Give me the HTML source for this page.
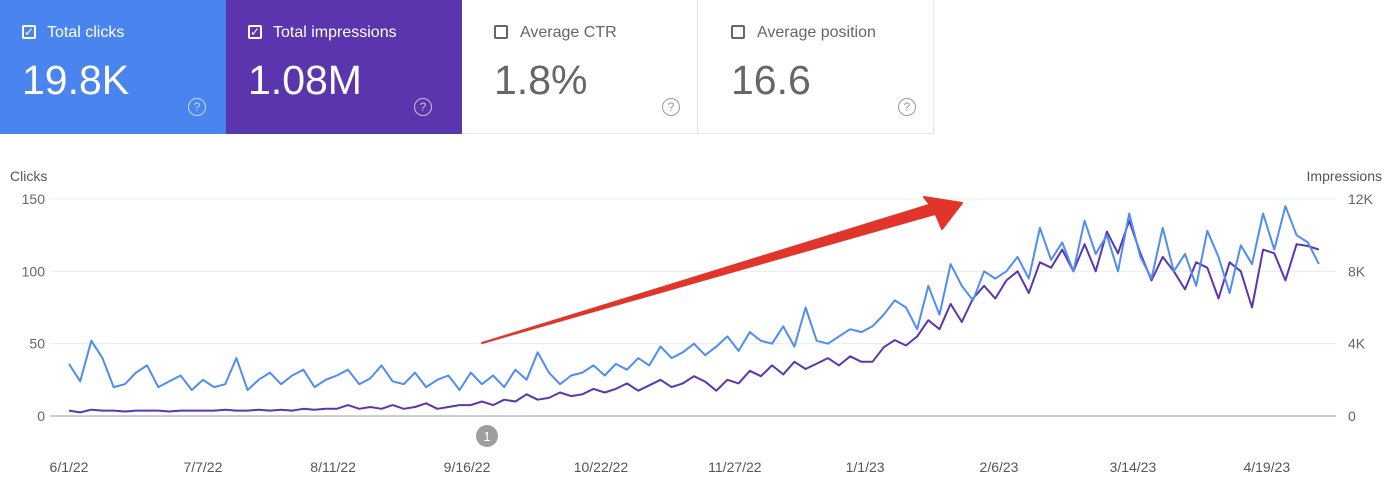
<!DOCTYPE html>
<html><head><meta charset="utf-8">
<style>
body{margin:0;width:1397px;height:500px;background:#fff;font-family:"Liberation Sans",sans-serif;overflow:hidden;position:relative}
.card{position:absolute;top:0;height:134px;box-sizing:border-box}
.lbl{position:absolute;left:47px;top:24px;font-size:16px}
.val{position:absolute;left:22px;top:57px;font-size:41px}
.cb{position:absolute;left:22px;top:25px;width:14px;height:14px;border:2px solid;border-radius:2px;box-sizing:border-box;font-size:12px;line-height:10px;text-align:center}
.q{position:absolute;left:188px;top:98px;width:18px;height:18px;border:1.5px solid;border-radius:50%;font-size:12px;line-height:16px;text-align:center;box-sizing:border-box}
svg{position:absolute;left:0;top:0}
</style></head><body>
<div class="card" style="left:0;width:226px;background:#4a85ef;color:#fff">
<div class="cb" style="border-color:#fff">✓</div><div class="lbl">Total clicks</div><div class="val">19.8K</div><div class="q" style="border-color:#c8d8f8;color:#c8d8f8">?</div></div>
<div class="card" style="left:226px;width:236px;background:#5a35ad;color:#fff">
<div class="cb" style="border-color:#fff">✓</div><div class="lbl">Total impressions</div><div class="val">1.08M</div><div class="q" style="border-color:#c9bde6;color:#c9bde6">?</div></div>
<div class="card" style="left:462px;width:236px;border-right:1px solid #e4e4e4;border-bottom:1px solid #e4e4e4;color:#666">
<div class="cb" style="border-color:#666;left:32px"></div><div class="lbl" style="left:58px">Average CTR</div><div class="val" style="left:32px">1.8%</div><div class="q" style="border-color:#999;color:#999;left:200px">?</div></div>
<div class="card" style="left:698px;width:236px;border-right:1px solid #e4e4e4;border-bottom:1px solid #e4e4e4;color:#666">
<div class="cb" style="border-color:#666;left:33px"></div><div class="lbl" style="left:59px">Average position</div><div class="val" style="left:33px">16.6</div><div class="q" style="border-color:#999;color:#999;left:200px">?</div></div>
<svg id="chart" width="1397" height="500"></svg>
<script>
const clicks=[36,24,52,40,20,22,30,35,20,24,28,18,
25,20,22,40,18,25,30,22,28,32,20,25,
28,32,22,26,35,24,22,30,20,25,28,18,
30,22,28,20,32,25,44,30,22,28,30,35,
28,36,32,40,35,48,40,44,50,42,48,55,
45,58,52,50,62,48,75,52,50,55,60,58,
62,70,80,75,60,90,70,105,90,80,100,95,
100,110,95,130,108,120,100,135,112,125,100,140,
110,95,130,100,112,90,128,110,85,118,105,140,
115,145,125,120,105];
const impressions=[0.3,0.2,0.35,0.3,0.3,0.25,0.3,0.3,0.3,0.25,0.3,0.3,
0.3,0.3,0.35,0.3,0.3,0.35,0.3,0.35,0.3,0.4,0.35,0.4,
0.4,0.6,0.4,0.5,0.4,0.6,0.4,0.5,0.7,0.4,0.5,0.6,
0.6,0.8,0.6,0.9,0.8,1.2,0.9,1.0,1.3,1.1,1.2,1.5,
1.3,1.5,1.8,1.4,1.7,2.0,1.6,1.8,2.2,1.9,1.4,2.0,
1.8,2.5,2.2,2.8,2.3,3.0,2.6,2.9,3.2,2.8,3.3,3.0,
3.0,3.8,4.2,3.9,4.4,5.3,4.8,6.2,5.2,6.5,7.2,6.5,
7.5,8.0,6.8,8.5,8.2,9.2,8.0,9.5,8.0,10.2,9.0,10.8,
9.0,7.5,8.8,8.0,7.0,8.5,8.2,6.5,8.5,8.0,6.0,9.2,
9.0,7.5,9.5,9.4,9.2];
const leftTicks=[0,50,100,150];
const rightTicks=["0","4K","8K","12K"];
const rightVals=[0,4,8,12];
const dateLabels=["6/1/22","7/7/22","8/11/22","9/16/22","10/22/22","11/27/22","1/1/23","2/6/23","3/14/23","4/19/23"];
const dateDays=[0,36,71,107,143,179,214,250,286,322];
const stepDays=3;
const NS="http://www.w3.org/2000/svg",svg=document.getElementById('chart');
const x=d=>69+d*3.72, yL=v=>416-v*217/150, yR=v=>416-v*217/12;
function mk(t,a,txt){const e=document.createElementNS(NS,t);for(const k in a)e.setAttribute(k,a[k]);if(txt!==undefined)e.textContent=txt;svg.appendChild(e);return e;}
leftTicks.forEach((v,i)=>{
 const g=mk('line',{x1:50,x2:1336,y1:yL(v),y2:yL(v),stroke:v?'#ececec':'#bdbdbd','stroke-width':v?1:1.5});
 
 
 const t=mk('text',{x:45,y:yL(v)+5,'text-anchor':'end','font-size':14,fill:'#666'},v);
 
 
});
rightVals.forEach((v,i)=>{
 const t=mk('text',{x:1348,y:yR(v)+5,'font-size':14,fill:'#666'},rightTicks[i]);
 
 
});
let t=mk('text',{x:10,y:181,'font-size':14,fill:'#555'},'Clicks');


t=mk('text',{x:1382,y:181,'font-size':14,fill:'#555','text-anchor':'end'},'Impressions');


dateLabels.forEach((l,i)=>{
 const e=mk('text',{x:x(dateDays[i]),y:472,'text-anchor':'middle','font-size':14,fill:'#555'},l);
 
 
});
function line(arr,fy,col,name){
 const p=arr.map((v,i)=>(i?'L':'M')+x(i*stepDays).toFixed(1)+','+fy(v).toFixed(1)).join('');
 const e=mk('path',{d:p,fill:'none',stroke:col,'stroke-width':2,'stroke-linejoin':'round'});
 
 
}
line(impressions,yR,'#5c35b0','impressions-line');
line(clicks,yL,'#4f8df2','clicks-line');
const c=mk('circle',{cx:487,cy:436,r:11,fill:'#9e9e9e'});


t=mk('text',{x:487,y:441,'text-anchor':'middle','font-size':13,fill:'#fff'},'1');


const a=mk('path',{d:'M482,343 L935,214 L932,204 Z M962,203 L924,197 L934,210 L942,229 Z',fill:'#e2352a',stroke:'#e2352a','stroke-width':2,'stroke-linejoin':'round'});


</script>
</body></html>
